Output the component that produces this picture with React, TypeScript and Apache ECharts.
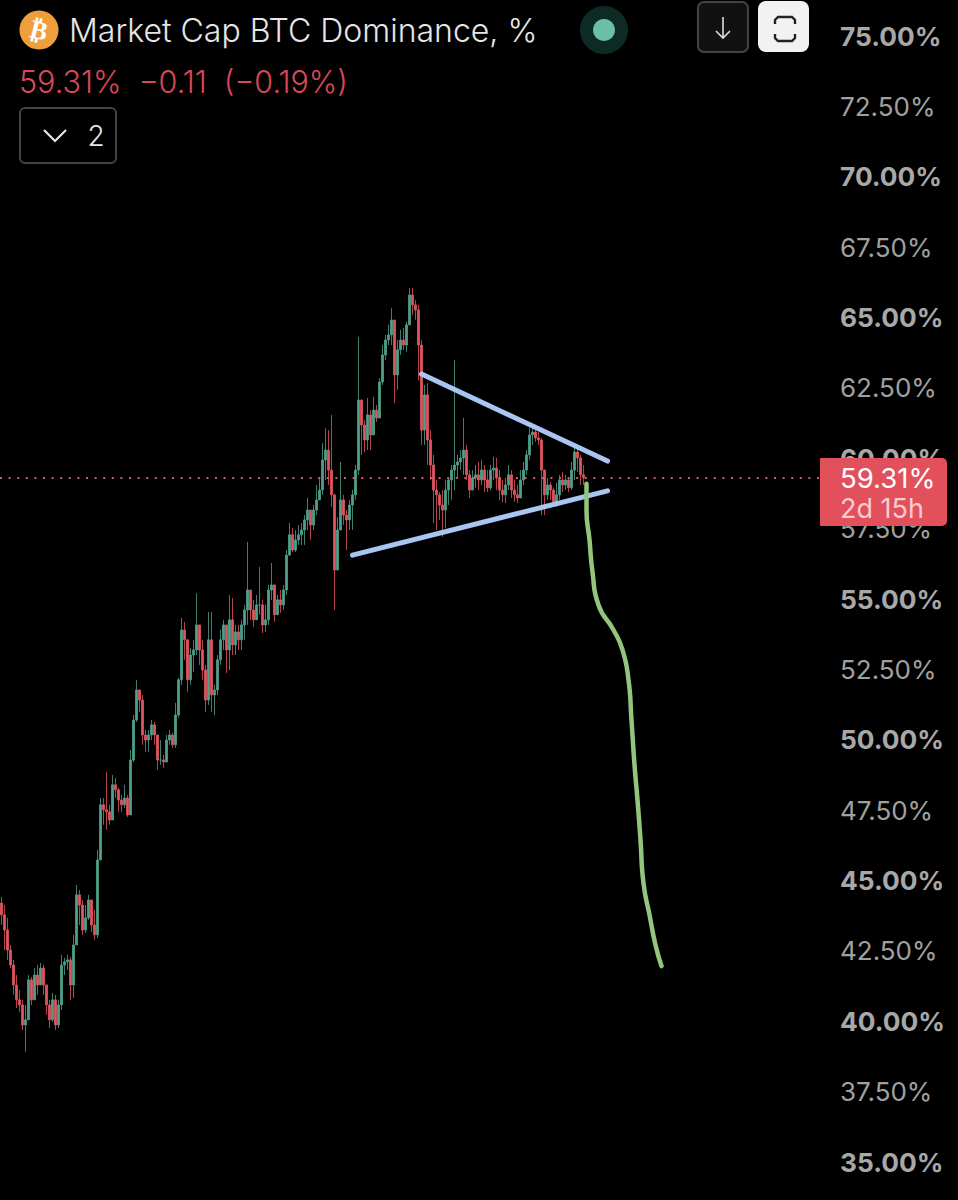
import React, { useEffect, useRef } from "react";
import * as echarts from "echarts";

const closes = [
  43.78,43.24,42.53,42.00,41.29,40.76,40.58,39.87,40.05,41.47,
  40.76,41.64,41.29,41.89,41.29,40.58,40.05,40.76,39.87,40.58,
  42.00,42.11,42.18,41.29,42.71,44.49,44.13,43.24,43.67,44.31,
  43.42,43.07,45.73,47.69,47.51,47.44,47.15,48.40,48.22,47.86,
  47.69,47.93,47.33,49.28,50.70,51.77,51.41,50.17,49.99,50.17,
  50.53,50.17,49.28,49.28,49.21,49.99,50.17,49.82,50.88,52.13,
  53.90,53.55,52.13,53.01,53.19,54.08,53.19,52.48,51.41,53.55,
  51.59,51.77,52.84,53.55,54.08,53.19,54.26,53.37,53.83,53.55,
  54.08,54.61,55.32,54.61,54.26,54.79,54.79,54.08,54.26,55.32,
  55.50,54.44,54.97,54.79,55.32,56.56,57.28,56.74,57.10,57.28,
  57.45,57.81,58.16,57.63,58.16,58.52,58.87,59.94,60.29,59.58,
  58.70,56.03,57.45,58.52,57.98,57.81,58.34,58.70,59.58,62.07,
  61.18,60.65,61.54,60.83,61.71,61.43,62.71,63.67,64.20,64.38,
  64.91,62.96,63.85,64.20,64.02,64.74,65.80,65.45,65.27,64.02,
  61.00,62.25,60.65,59.76,58.87,58.70,58.34,58.16,58.87,59.23,
  59.58,59.76,59.87,60.01,60.29,59.41,58.87,59.30,59.41,59.23,
  59.58,59.23,58.95,59.58,59.65,59.30,58.87,58.70,59.05,59.41,
  58.87,58.70,58.59,59.23,59.58,60.12,60.83,60.93,60.72,60.65,
  59.58,58.70,59.05,58.87,58.45,58.70,59.23,59.05,59.23,58.95,
  59.58,60.22,60.01,59.41,59.31,
];
const highs = [
  44.42,44.13,43.67,42.71,42.18,41.64,41.11,40.76,40.58,41.64,
  41.57,41.89,42.00,42.07,42.00,41.29,40.76,41.01,40.94,40.76,
  42.36,42.25,42.36,42.29,43.07,44.84,44.67,44.31,44.13,44.49,
  44.31,43.96,46.09,47.93,47.93,48.86,47.69,48.75,48.64,48.29,
  48.04,48.40,48.04,49.64,50.88,52.13,51.77,51.59,50.35,50.35,
  50.70,50.63,50.17,49.99,49.46,50.17,50.35,50.24,51.31,52.20,
  54.33,54.19,53.55,53.26,53.55,55.21,54.08,53.55,52.66,54.54,
  54.54,51.95,53.01,53.90,54.26,54.08,55.14,55.04,54.08,54.08,
  54.26,54.79,57.03,55.32,54.97,55.14,56.14,54.97,54.79,55.50,
  56.28,55.50,55.14,55.32,55.50,56.74,57.70,57.52,57.45,57.63,
  57.70,57.98,58.59,58.16,58.34,59.05,59.30,60.54,61.07,61.00,
  61.54,58.70,57.91,59.87,58.70,58.16,58.52,58.87,59.76,64.31,
  62.07,61.36,62.14,61.71,62.18,61.89,62.85,64.02,64.38,64.74,
  65.34,64.91,64.20,64.56,64.63,64.84,66.05,66.05,65.62,65.45,
  64.20,62.60,62.67,61.00,60.12,59.23,58.80,58.87,59.23,59.30,
  59.76,63.49,60.12,60.29,61.43,60.47,59.58,59.58,59.76,59.87,
  59.94,59.76,59.58,59.76,60.05,60.01,59.58,59.23,59.30,59.76,
  59.58,59.23,59.05,59.58,59.87,60.29,61.07,61.18,61.07,60.93,
  60.72,59.58,59.30,59.16,58.95,59.12,59.41,59.51,59.41,59.30,
  59.87,60.40,60.40,60.12,59.76,
];
const lows = [
  43.42,42.53,42.18,41.89,40.94,40.47,40.33,39.69,38.91,40.23,
  40.58,40.76,40.94,41.29,40.94,40.23,39.76,39.98,39.69,39.76,
  40.40,41.64,41.82,40.76,40.83,42.71,43.42,43.07,43.14,43.60,
  43.17,42.89,42.96,45.73,46.98,46.80,46.98,47.33,47.93,47.44,
  47.44,47.58,47.26,47.33,49.21,50.63,50.99,49.82,49.57,49.57,
  49.99,49.82,48.93,49.11,49.00,49.21,49.82,49.71,49.71,50.78,
  51.95,52.84,51.70,51.95,52.41,53.01,52.66,52.13,50.99,51.24,
  50.99,50.88,51.59,52.66,53.19,52.37,52.48,53.01,53.01,53.19,
  53.19,53.55,54.08,54.26,54.01,54.44,54.44,53.79,53.83,54.08,
  54.97,54.19,54.44,54.51,54.61,55.14,56.53,56.67,56.67,56.92,
  56.92,56.92,57.45,57.10,57.45,57.98,58.63,58.70,59.23,59.05,
  58.27,54.61,56.03,57.52,57.63,56.74,57.45,57.45,58.52,59.41,
  60.12,60.22,60.29,60.29,61.18,61.29,61.89,62.60,63.49,64.02,
  64.02,61.96,62.43,63.67,63.85,63.78,64.84,65.09,64.91,62.78,
  60.47,60.47,59.76,59.23,57.70,57.45,57.81,57.21,57.52,58.34,
  58.52,58.87,59.30,59.58,59.41,59.23,58.59,58.87,58.95,58.87,
  59.05,58.80,58.80,58.87,59.23,58.87,58.52,58.45,58.41,58.87,
  58.59,58.45,58.41,58.59,59.05,59.41,59.94,60.47,60.58,60.47,
  57.98,57.98,58.52,58.52,58.27,58.27,58.52,58.80,58.87,58.80,
  58.87,59.23,59.51,59.05,59.05,
];
const firstOpen = 44.2;
const lastPrice = 59.31;
const slotCount = 274;

const upperTrendX = [139.83, 202.17];
const upperTrendY = [62.99, 59.9];
const lowerTrendX = [116.83, 202.17];
const lowerTrendY = [56.56, 58.84];
const projectionX = [194.67,195,195.5,196.5,199.17,203.5,206.83,209.17,210.17,210.5,211.83,212.83,213.5,215.5,217.83,219.83];
const projectionY = [59.09,58.16,57.1,55.96,54.79,53.9,53.19,52.13,50.7,49.11,47.86,46.44,44.9,43.78,42.71,41.96];

const UP = "#4f9f8c";
const DOWN = "#df5560";
const BLUE = "#a9c5f2";
const GREEN = "#93c67c";
const FONT = "Inter, Roboto, sans-serif";

export default function App() {
  const ref = useRef<HTMLDivElement>(null);
  useEffect(() => {
    document.body.style.margin = "0";
    document.body.style.background = "#000";
    const chart = echarts.init(ref.current!, undefined, { renderer: "svg" });
    const candles = closes.map((c, i) => [i === 0 ? firstOpen : closes[i - 1], c, lows[i], highs[i]]);
    const ladder = (xs: number[], ys: number[]) => xs.map((x, i) => [x, ys[i]]);
    const btnIcon = { stroke: "#222", lineWidth: 2.4, fill: "none" };
    chart.setOption({
      animation: false,
      backgroundColor: "#000",
      grid: { left: 0, top: 36, width: 822, height: 1126, containLabel: false },
      xAxis: {
        type: "category",
        data: Array.from({ length: slotCount }, (_, i) => String(i)),
        show: false,
      },
      yAxis: {
        type: "value",
        min: 35,
        max: 75,
        interval: 2.5,
        position: "right",
        axisLine: { show: false },
        axisTick: { show: false },
        splitLine: { show: false },
        axisLabel: {
          margin: 18,
          align: "left",
          formatter: (v: number) => {
            const t = v.toFixed(2) + "%";
            return v % 5 === 0 ? `{b|${t}}` : `{r|${t}}`;
          },
          rich: {
            b: { fontFamily: FONT, fontSize: 26.3, fontWeight: 700, color: "#a8a8a8" },
            r: { fontFamily: FONT, fontSize: 26, fontWeight: 400, color: "#a0a0a0" },
          },
        },
      },
      series: [
        {
          type: "candlestick",
          data: candles,
          barWidth: 2,
          itemStyle: { color: UP, color0: DOWN, borderColor: UP, borderColor0: DOWN, borderWidth: 0.8 },
          markLine: {
            silent: true,
            symbol: "none",
            label: { show: false },
            lineStyle: { color: "#e0606a", width: 2, type: [2, 6.6], opacity: 0.95 },
            data: [{ yAxis: lastPrice }],
          },
        },
        {
          type: "line",
          data: ladder(upperTrendX, upperTrendY),
          symbol: "none",
          clip: false,
          lineStyle: { color: BLUE, width: 5, cap: "round" },
        },
        {
          type: "line",
          data: ladder(lowerTrendX, lowerTrendY),
          symbol: "none",
          clip: false,
          lineStyle: { color: BLUE, width: 5, cap: "round" },
        },
        {
          type: "line",
          data: ladder(projectionX, projectionY),
          symbol: "none",
          smooth: 0.55,
          clip: false,
          lineStyle: { color: GREEN, width: 4.5, cap: "round" },
        },
      ],
      graphic: [
        { type: "circle", shape: { cx: 39, cy: 30, r: 19.5 }, style: { fill: "#ee9f3c" }, z: 10 },
        {
          type: "text", x: 39, y: 30, rotation: -0.24, z: 11,
          style: { text: "₿", fill: "#fff", font: "bold 26px 'DejaVu Sans'", textAlign: "center", textVerticalAlign: "middle" },
        },
        {
          type: "text", x: 69, y: 30, z: 11,
          style: { text: "Market Cap BTC Dominance, %", fill: "#e6e6e6", font: `300 32px ${FONT}`, textVerticalAlign: "middle" },
        },
        { type: "circle", shape: { cx: 604, cy: 30, r: 24 }, style: { fill: "#0e2a24" }, z: 10 },
        { type: "circle", shape: { cx: 604, cy: 30, r: 11 }, style: { fill: "#6bbfa8" }, z: 11 },
        { type: "rect", shape: { x: 698, y: 2, width: 50, height: 50, r: 6 }, style: { fill: "#111", stroke: "#444", lineWidth: 2 }, z: 10 },
        { type: "line", shape: { x1: 723, y1: 17, x2: 723, y2: 38 }, style: { stroke: "#ddd", lineWidth: 1.6 }, z: 11 },
        { type: "polyline", shape: { points: [[716, 31], [723, 38], [730, 31]] }, style: { stroke: "#ddd", lineWidth: 1.6, fill: "none" }, z: 11 },
        { type: "rect", shape: { x: 758, y: 1, width: 51, height: 51, r: 8 }, style: { fill: "#f2f2f2" }, z: 10 },
        { type: "polyline", shape: { points: [[775, 24], [775, 20], [778, 17], [792, 17], [795, 20], [795, 24]] }, style: btnIcon, z: 11 },
        { type: "polyline", shape: { points: [[775, 34], [775, 38], [778, 41], [792, 41], [795, 38], [795, 34]] }, style: btnIcon, z: 11 },
        {
          type: "text", x: 19, y: 81, z: 11,
          style: { text: "59.31%  −0.11  (−0.19%)", fill: "#d9485a", font: `300 30.5px ${FONT}`, textVerticalAlign: "middle" },
        },
        { type: "rect", shape: { x: 20, y: 108, width: 96, height: 55, r: 5 }, style: { fill: "#000", stroke: "#444", lineWidth: 2 }, z: 10 },
        { type: "polyline", shape: { points: [[44, 130], [55, 141], [66, 130]] }, style: { stroke: "#e6e6e6", lineWidth: 2.2, fill: "none" }, z: 11 },
        {
          type: "text", x: 96, y: 136, z: 11,
          style: { text: "2", fill: "#e6e6e6", font: `300 28px ${FONT}`, textAlign: "center", textVerticalAlign: "middle" },
        },
        { type: "rect", shape: { x: 820, y: 458, width: 127, height: 68, r: [1, 5, 5, 1] }, style: { fill: "#e2505c" }, z: 20 },
        {
          type: "text", x: 840, y: 478, z: 21,
          style: { text: "59.31%", fill: "#fff", font: `400 27.5px ${FONT}`, textVerticalAlign: "middle" },
        },
        {
          type: "text", x: 840, y: 508, z: 21,
          style: { text: "2d 15h", fill: "#f8ccd0", font: `400 27px ${FONT}`, textVerticalAlign: "middle" },
        },
      ],
    });
    return () => chart.dispose();
  }, []);
  return <div ref={ref} style={{ position: "absolute", left: 0, top: 0, width: 958, height: 1200, background: "#000" }} />;
}
